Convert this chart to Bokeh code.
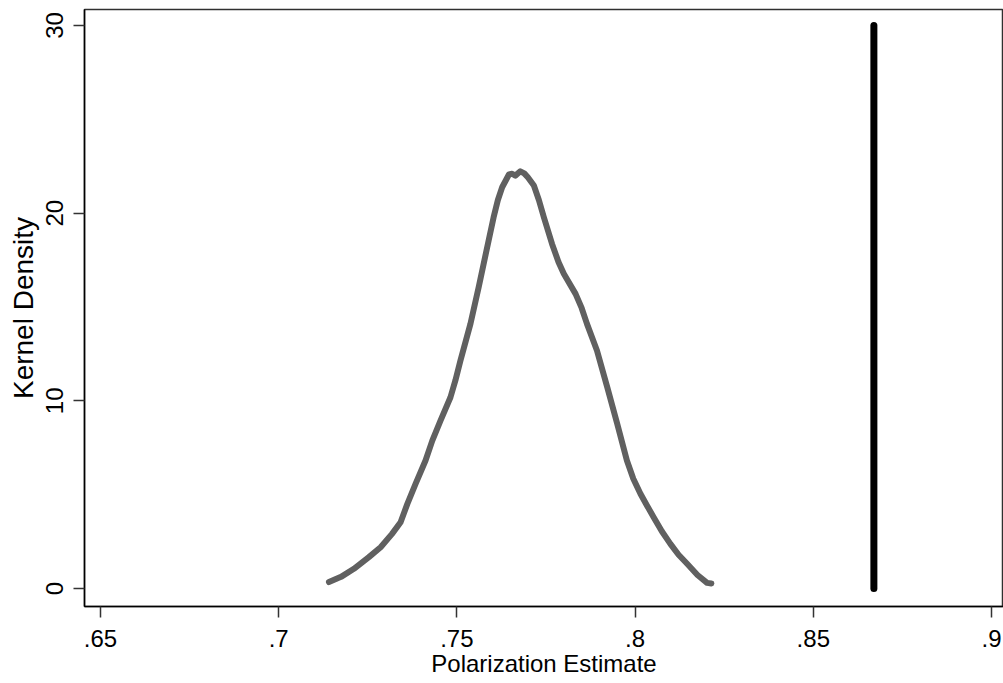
from bokeh.plotting import figure
from bokeh.models import Range1d, FixedTicker
from bokeh.embed import file_html
from bokeh.resources import INLINE

# Kernel density of polarization estimates
dens_x = [0.7141, 0.7175, 0.7211, 0.7253, 0.7286, 0.7318, 0.7342, 0.7361, 0.7384, 0.7412, 0.7431,
          0.7454, 0.7482, 0.7496, 0.7510, 0.7538, 0.7561, 0.7589, 0.7603, 0.7615, 0.7627, 0.7646, 0.7655, 0.7664,
          0.7678, 0.7689, 0.7699, 0.7716, 0.7730, 0.7744, 0.7767, 0.7785, 0.7800, 0.7833, 0.7850, 0.7865, 0.7893, 0.7922,
          0.7950, 0.7977, 0.7995, 0.8015, 0.8034, 0.8052, 0.8075, 0.8099, 0.8122, 0.8146, 0.8175, 0.8202, 0.8214]
dens_y = [0.34, 0.62, 1.05, 1.67, 2.20, 2.91, 3.53, 4.51, 5.58, 6.82, 7.88,
          8.95, 10.19, 11.10, 12.15, 14.10, 16.05, 18.54, 19.78, 20.70, 21.38, 22.06, 22.10, 22.00,
          22.23, 22.12, 21.91, 21.47, 20.70, 19.78, 18.36, 17.40, 16.77, 15.70, 14.95, 14.10, 12.68, 10.72,
          8.77, 6.82, 5.85, 5.05, 4.40, 3.80, 3.05, 2.38, 1.80, 1.32, 0.72, 0.30, 0.27]

# Observed value (vertical line)
obs_x = [0.867, 0.867]
obs_y = [0, 30]

x_ticks = [0.65, 0.7, 0.75, 0.8, 0.85, 0.9]
x_labels = [".65", ".7", ".75", ".8", ".85", ".9"]
y_ticks = [0, 10, 20, 30]

FONT = "Liberation Sans"

p = figure(width=1003, height=683, output_backend="svg", toolbar_location=None,
           x_range=Range1d(0.64551, 0.90337), y_range=Range1d(-0.959, 30.852),
           min_border_left=84, min_border_top=9, min_border_right=0, min_border_bottom=77)
p.grid.visible = False
p.outline_line_color = "#303030"
p.outline_line_width = 1.5
p.background_fill_color = "white"
p.border_fill_color = "white"

p.line(dens_x, dens_y, line_color="#606060", line_width=6, line_cap="round", line_join="round")
p.line(obs_x, obs_y, line_color="black", line_width=7, line_cap="round")

xa = p.xaxis[0]
xa.ticker = FixedTicker(ticks=x_ticks)
xa.major_label_overrides = {t: l for t, l in zip(x_ticks, x_labels)}
xa.axis_label = "Polarization Estimate"
xa.minor_tick_line_color = None
xa.major_tick_out = 11
xa.major_tick_in = 0
xa.major_label_standoff = 12
xa.axis_label_standoff = 0
xa.axis_label_text_font_size = "24px"

ya = p.yaxis[0]
ya.ticker = FixedTicker(ticks=y_ticks)
ya.axis_label = "Kernel Density"
ya.minor_tick_line_color = None
ya.major_tick_out = 11
ya.major_tick_in = 0
ya.major_label_standoff = 10
ya.major_label_orientation = "vertical"
ya.axis_label_standoff = 5
ya.axis_label_text_font_size = "28px"

for a in (xa, ya):
    a.axis_line_color = "black"
    a.axis_line_width = 1.5
    a.major_tick_line_color = "#333333"
    a.major_tick_line_width = 1.5
    a.major_label_text_font = FONT
    a.major_label_text_font_size = "24px"
    a.major_label_text_color = "black"
    a.axis_label_text_font = FONT
    a.axis_label_text_font_style = "normal"
    a.axis_label_text_color = "black"

open("out.html", "w").write(file_html(p, INLINE))
